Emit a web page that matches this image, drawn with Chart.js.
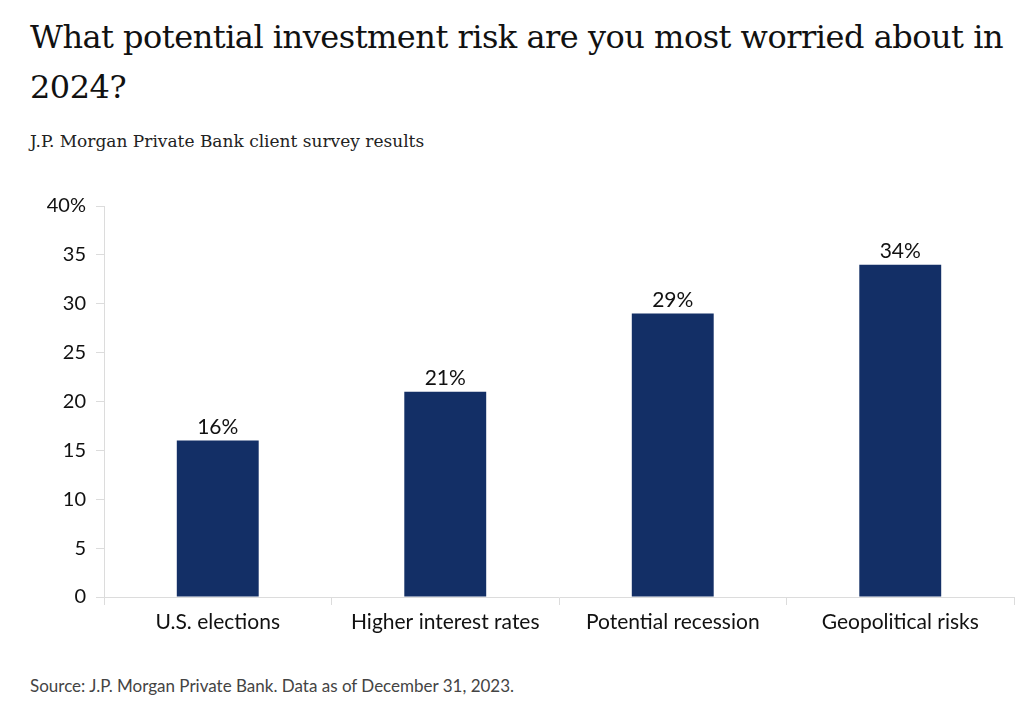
<!DOCTYPE html>
<html>
<head>
<meta charset="utf-8">
<script src="https://cdn.jsdelivr.net/npm/chart.js@4.4.1/dist/chart.umd.min.js"></script>
<style>
  body { margin: 0; background: #fff; width: 1024px; height: 712px; overflow: hidden; position: relative; }
  #title { position: absolute; left: 30px; top: 12px; width: 990px; font-family: 'DejaVu Serif', serif; font-size: 32px; line-height: 50px; color: #111; letter-spacing: -0.5px; }
  #subtitle { position: absolute; left: 30px; top: 131px; font-family: 'DejaVu Serif', serif; font-size: 17px; color: #222; }
  #wrap { position: absolute; left: 0; top: 184px; width: 1024px; height: 476px; }
  #source { position: absolute; left: 30px; top: 675px; font-family: Lato, sans-serif; font-size: 17px; color: #444; }
</style>
</head>
<body>
<div id="title">What potential investment risk are you most worried about in 2024?</div>
<div id="subtitle">J.P. Morgan Private Bank client survey results</div>
<div id="wrap"><canvas id="chart"></canvas></div>
<div id="source">Source: J.P. Morgan Private Bank. Data as of December 31, 2023.</div>
<script>
// 資料
const categories = ['U.S. elections', 'Higher interest rates', 'Potential recession', 'Geopolitical risks'];
const shares = [16, 21, 29, 34];
const yTicks = [0, 5, 10, 15, 20, 25, 30, 35, 40];

const barColor = '#132f66';
const axisColor = '#dcdcdc';
const tickFont = { family: 'Lato, sans-serif', size: 20 };
const catFont = { family: 'Lato, sans-serif', size: 21 };

// 長條上方的百分比標籤
const valueLabels = {
    id: 'valueLabels',
    afterDatasetsDraw(chart) {
        const ctx = chart.ctx;
        const meta = chart.getDatasetMeta(0);
        ctx.save();
        ctx.font = `21px ${tickFont.family}`;
        ctx.fillStyle = '#111';
        ctx.textAlign = 'center';
        ctx.textBaseline = 'bottom';
        meta.data.forEach((bar, i) => {
            ctx.fillText(shares[i] + '%', bar.x, bar.y - 3);
        });
        ctx.restore();
    }
};

new Chart(document.getElementById('chart'), {
    type: 'bar',
    data: {
        labels: categories,
        datasets: [{
            data: shares,
            backgroundColor: barColor,
            categoryPercentage: 1,
            barPercentage: 0.36
        }]
    },
    options: {
        responsive: true,
        maintainAspectRatio: false,
        animation: false,
        layout: { padding: { top: 10, right: 10, left: 0, bottom: 0 } },
        plugins: { legend: { display: false }, tooltip: { enabled: false } },
        scales: {
            x: {
                grid: { offset: true, drawOnChartArea: false, drawTicks: true, tickLength: 8, color: axisColor },
                border: { color: axisColor },
                ticks: { color: '#111', font: catFont, padding: 5 },
                afterFit: (s) => { s.height = 63; }
            },
            y: {
                min: 0, max: 40,
                afterBuildTicks: (s) => { s.ticks = yTicks.map(v => ({ value: v })); },
                grid: { drawOnChartArea: false, drawTicks: true, tickLength: 8, color: axisColor },
                border: { color: axisColor },
                ticks: {
                    color: '#111', font: tickFont, padding: 10,
                    callback: (v) => v === 40 ? '40%' : v
                },
                afterFit: (s) => { s.width = 104; }
            }
        }
    },
    plugins: [valueLabels]
});
</script>
</body>
</html>
